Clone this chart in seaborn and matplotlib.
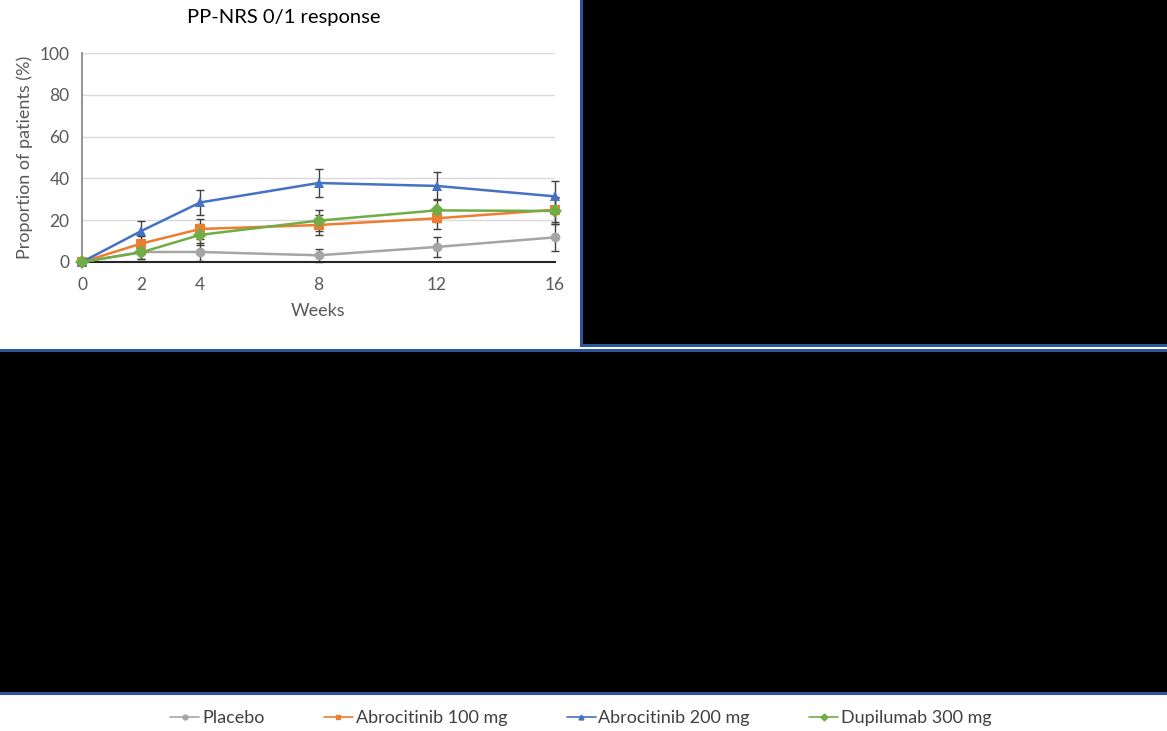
import matplotlib
matplotlib.use("Agg")
import matplotlib.pyplot as plt
from matplotlib.patches import Rectangle
from matplotlib.lines import Line2D
import pandas as pd
import numpy as np
import seaborn as sns

# data
weeks = [0, 2, 4, 8, 12, 16]
groups = ["Placebo", "Abrocitinib 100 mg", "Abrocitinib 200 mg", "Dupilumab 300 mg"]
placebo = [0, 4.8, 4.8, 3.2, 7.2, 11.8]
abro_100 = [0, 8.8, 15.8, 17.7, 20.9, 25.0]
abro_200 = [0, 14.8, 28.5, 37.8, 36.4, 31.4]
dupilumab = [0, 4.6, 13.0, 19.8, 24.7, 24.4]
placebo_err = [0, 3.5, 4.5, 3.0, 4.8, 6.3]
abro_100_err = [0, 3.5, 4.8, 4.8, 5.0, 6.0]
abro_200_err = [0, 5.0, 6.0, 6.8, 6.8, 7.5]
dupilumab_err = [0, 3.0, 5.0, 5.2, 5.5, 6.0]

values = [placebo, abro_100, abro_200, dupilumab]
errors = [placebo_err, abro_100_err, abro_200_err, dupilumab_err]

colors = {"Placebo": "#A5A5A5", "Abrocitinib 100 mg": "#ED7D31",
          "Abrocitinib 200 mg": "#4472C4", "Dupilumab 300 mg": "#70AD47"}
markers = {"Placebo": "o", "Abrocitinib 100 mg": "s",
           "Abrocitinib 200 mg": "^", "Dupilumab 300 mg": "D"}

df = pd.DataFrame({
    "week": weeks * len(groups),
    "value": sum(values, []),
    "err": sum(errors, []),
    "group": [g for g in groups for _ in weeks],
})

sns.set_style("white")
plt.rcParams["font.family"] = ["Lato", "DejaVu Sans"]

W, H = 1167, 731
fig = plt.figure(figsize=(W / 100, H / 100), dpi=100)
fig.patch.set_facecolor("white")

ax = fig.add_axes([82 / W, 1 - 262 / H, 473 / W, 209 / H])

# error bars first so lines sit on top
for g, v, e in zip(groups, values, errors):
    ax.errorbar(weeks, v, yerr=e, fmt="none", ecolor="#404040",
                elinewidth=1, capsize=3, capthick=1, zorder=2, clip_on=False)

sns.lineplot(data=df, x="week", y="value", hue="group", style="group",
             palette=colors, markers=markers, dashes=False, markersize=7,
             linewidth=1.8, markeredgewidth=0, legend=False, ax=ax,
             zorder=3, clip_on=False)

ax.set_xlim(0, 16)
ax.set_ylim(0, 100)
ax.set_xticks([0, 2, 4, 8, 12, 16])
ax.set_xticks([6, 10, 14], minor=True)
ax.set_yticks([0, 20, 40, 60, 80, 100])
ax.yaxis.grid(True, color="#D9D9D9", linewidth=1)
ax.set_axisbelow(True)
for s in ["top", "right"]:
    ax.spines[s].set_visible(False)
ax.spines["left"].set_color("#808080")
ax.spines["left"].set_linewidth(1.2)
ax.spines["bottom"].set_color("#262626")
ax.spines["bottom"].set_linewidth(1.5)
ax.tick_params(axis="x", which="both", direction="out", length=5, width=1.2,
               color="#262626", labelsize=12.5, labelcolor="#595959", pad=6)
ax.tick_params(axis="y", direction="out", length=5, width=1, color="#808080",
               labelsize=12.5, labelcolor="#595959", pad=4)
ax.set_xlabel("Weeks", fontsize=13, color="#595959", labelpad=7)
ax.set_ylabel("Proportion of patients (%)", fontsize=13, color="#595959", labelpad=5)

fig.text(284 / W, 1 - 18 / H, "PP-NRS 0/1 response", ha="center", va="center",
         fontsize=14.5, color="black")

# the blacked-out panels with blue frames
blue = "#2F5597"
fig.add_artist(Rectangle((581 / W, 1 - 345 / H), 590 / W, 349 / H,
                         transform=fig.transFigure, facecolor="black",
                         edgecolor=blue, linewidth=2.2))
fig.add_artist(Rectangle((-5 / W, 1 - 693 / H), 1180 / W, 343 / H,
                         transform=fig.transFigure, facecolor="black",
                         edgecolor=blue, linewidth=2.2))

handles = [Line2D([], [], color=colors[g], marker=markers[g], markersize=3.5,
                  linewidth=1.2) for g in groups]
fig.legend(handles, groups, loc="center", bbox_to_anchor=(581 / W, 1 - 718 / H),
           ncol=4, frameon=False, fontsize=13, labelcolor="#404040",
           handlelength=1.6, handletextpad=0.15, columnspacing=3.3)

fig.savefig("out.png", dpi=100)
